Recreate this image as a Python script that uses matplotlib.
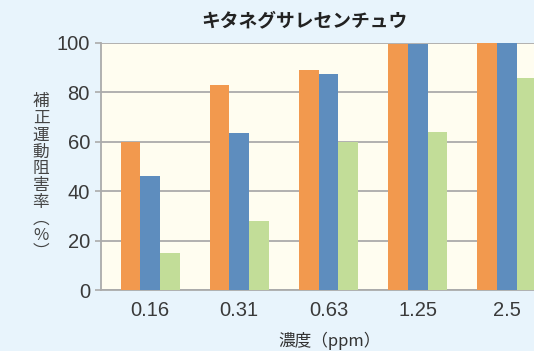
import matplotlib.pyplot as plt
import numpy as np

plt.rcParams['font.family'] = ['Noto Sans CJK JP', 'DejaVu Sans']

# concentrations (ppm) and inhibition rates for three series
concs = ['0.16', '0.31', '0.63', '1.25', '2.5']
series_a = [60, 83, 89, 99.5, 100]
series_b = [46, 63.5, 87.5, 99.5, 100]
series_c = [15, 28, 60, 64, 86]
colors = ['#F2994E', '#5E8DBE', '#C2DD98']

fig = plt.figure(figsize=(5.34, 3.51), dpi=100)
fig.patch.set_facecolor('#E8F4FC')
ax = fig.add_axes([101 / 534, 61 / 351, 455 / 534, 247 / 351])
ax.set_facecolor('#FFFDF0')

x = np.arange(len(concs))
w = 0.22
for i, (vals, c) in enumerate(zip([series_a, series_b, series_c], colors)):
    ax.bar(x + (i - 1) * w, vals, w, color=c, zorder=3)

ax.set_xlim(-0.55, 4.55)
ax.set_ylim(0, 100)
ax.set_yticks([0, 20, 40, 60, 80, 100])
ax.yaxis.grid(True, color='#ABABAB', linewidth=1.3, zorder=0)
ax.set_xticks(x)
ax.set_xticklabels(concs)
ax.tick_params(axis='x', length=0, pad=8, labelsize=14.5, labelcolor='#3A3A3A')
ax.tick_params(axis='y', length=4, width=1.2, color='#ABABAB', pad=4,
               labelsize=14.5, labelcolor='#3A3A3A')
for lab in ax.get_xticklabels() + ax.get_yticklabels():
    lab.set_family('Liberation Sans')
for s in ['top', 'right']:
    ax.spines[s].set_visible(False)
for s in ['left', 'bottom']:
    ax.spines[s].set_color('#ABABAB')
    ax.spines[s].set_linewidth(1.3)

fig.text(304 / 534, 1 - 21 / 351, 'キタネグサレセンチュウ', ha='center', va='center',
         fontsize=13.5, fontweight='bold', color='#222222')
fig.text(330 / 534, 1 - 341 / 351, '濃度（ppm）', ha='center', va='center',
         fontsize=12, color='#333333')
fig.text(41 / 534, 1 - 177 / 351, '\n'.join('補正運動阻害率︵%︶'), ha='center', va='center',
         fontsize=12, color='#444444', linespacing=0.98)

fig.savefig('out.png', dpi=100, facecolor=fig.get_facecolor())
